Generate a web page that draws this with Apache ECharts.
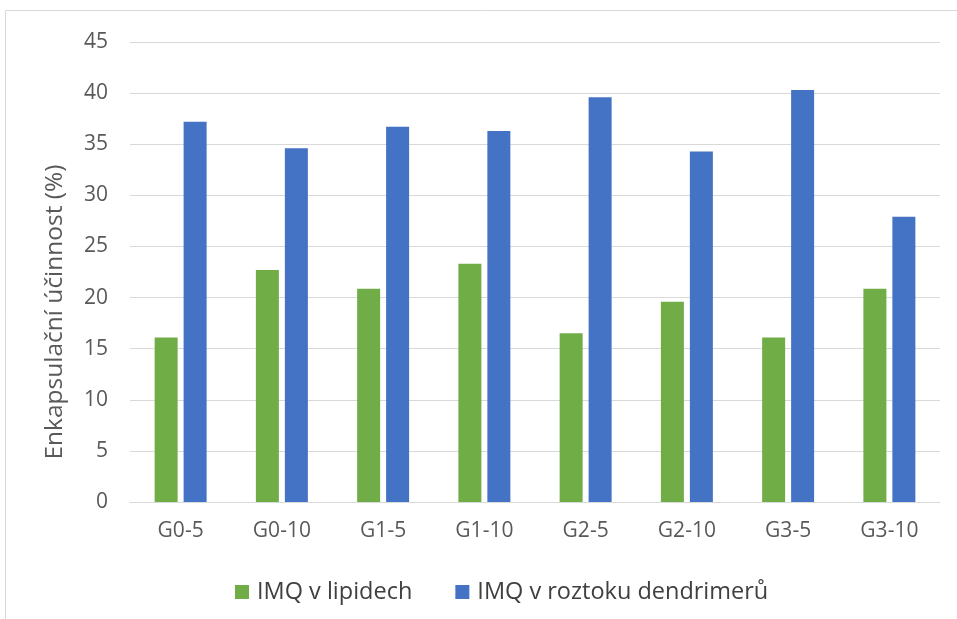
<!DOCTYPE html>
<html><head><meta charset="utf-8">
<script src="https://cdn.jsdelivr.net/npm/echarts@6/dist/echarts.min.js"></script>
<style>html,body{margin:0;padding:0;background:#fff}#c{width:957px;height:619px}</style>
</head><body><div id="c"></div>
<script>
const categories = ['G0-5','G0-10','G1-5','G1-10','G2-5','G2-10','G3-5','G3-10'];
const lipidy = [16.1, 22.7, 20.85, 23.3, 16.5, 19.6, 16.1, 20.85];
const dendrimery = [37.2, 34.6, 36.7, 36.3, 39.6, 34.3, 40.3, 27.9];
const seriesNames = ['IMQ v lipidech', 'IMQ v roztoku dendrimerů'];
const yTicks = [0, 5, 10, 15, 20, 25, 30, 35, 40, 45];
const yAxisTitle = 'Enkapsulační účinnost (%)';

const FONT = '"Open Sans", Lato, sans-serif';
const chart = echarts.init(document.getElementById('c'), null, {renderer: 'canvas'});
chart.setOption({
  animation: false,
  textStyle: {fontFamily: FONT},
  graphic: [
    {type: 'rect', shape: {x: 5.5, y: 10.5, width: 1000, height: 700},
     style: {fill: 'none', stroke: '#d9d9d9', lineWidth: 1}, silent: true},
    {type: 'text', x: 55, y: 312, rotation: Math.PI / 2,
     style: {text: yAxisTitle, fontSize: 24.5, fill: '#595959', fontFamily: FONT,
             align: 'center', verticalAlign: 'middle'}, silent: true}
  ],
  grid: {left: 130, right: 17, top: 42, bottom: 117, containLabel: false},
  legend: {
    data: seriesNames, top: 575, left: 230, itemWidth: 14, itemHeight: 14,
    itemGap: 43, icon: 'rect',
    textStyle: {fontSize: 23.5, color: '#404040', fontFamily: FONT, padding: [0, 0, 0, 3]}
  },
  xAxis: {
    type: 'category', data: categories,
    axisLine: {lineStyle: {color: '#d9d9d9', width: 1}},
    axisTick: {show: false},
    axisLabel: {fontSize: 21, color: '#595959', margin: 19, fontFamily: FONT}
  },
  yAxis: {
    type: 'value', min: yTicks[0], max: yTicks[yTicks.length - 1], interval: 5,
    axisLine: {show: false}, axisTick: {show: false},
    axisLabel: {fontSize: 21, color: '#595959', margin: 22, fontFamily: FONT},
    splitLine: {lineStyle: {color: '#d9d9d9', width: 1}}
  },
  series: [
    {name: seriesNames[0], type: 'bar', data: lipidy, barWidth: 23, barGap: '26%',
     itemStyle: {color: '#70AD47'}},
    {name: seriesNames[1], type: 'bar', data: dendrimery, barWidth: 23,
     itemStyle: {color: '#4472C4'}}
  ]
});
</script></body></html>
